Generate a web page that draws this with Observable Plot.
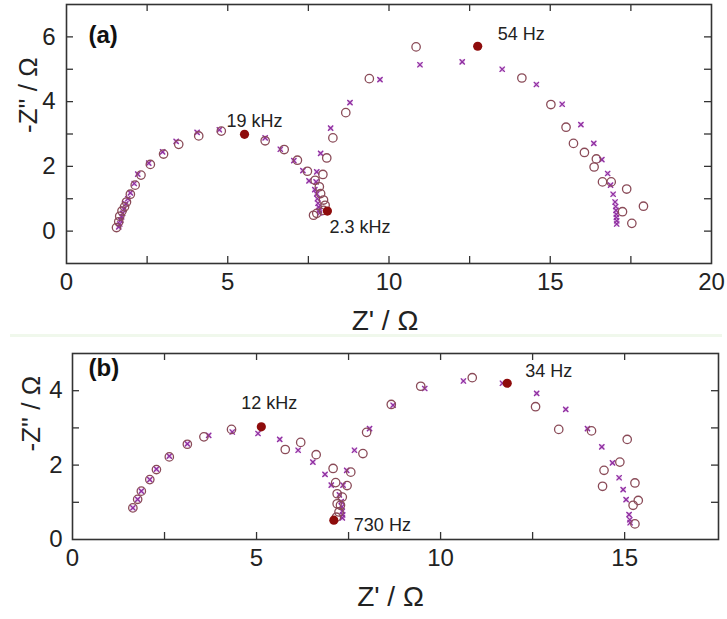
<!DOCTYPE html>
<html>
<head>
<meta charset="utf-8">
<script src="https://cdn.jsdelivr.net/npm/d3@7"></script>
<script src="https://cdn.jsdelivr.net/npm/@observablehq/plot@0.6"></script>
<style>
  body { margin: 0; background: #fff; }
  #wrap { position: relative; width: 727px; height: 619px; overflow: hidden; font-family: "Liberation Sans", Arial, sans-serif; }
  #pa { position: absolute; left: 0; top: 0; }
  #pb { position: absolute; left: 0; top: 335px; }
  #sep { position: absolute; left: 10px; top: 334px; width: 712px; height: 3px; background: #f0f8ec; }
</style>
</head>
<body>
<div id="wrap"><div id="pa"></div><div id="pb"></div><div id="sep"></div></div>
<script>
// ---------- Panel (a) data ----------
const aCircleX = [1.55,1.62,1.65,1.72,1.80,1.86,1.98,2.13,2.31,2.60,3.01,3.48,4.10,4.80,6.16,6.75,7.16,7.47,7.71,7.84,7.88,7.97,8.02,7.97,7.76,7.66,
  7.95,8.07,8.26,8.66,9.39,10.84,14.12,15.02,15.49,15.72,16.06,16.43,16.36,16.62,16.89,17.37,17.89,17.24,17.53];
const aCircleY = [0.11,0.29,0.46,0.62,0.75,0.90,1.14,1.42,1.73,2.06,2.38,2.68,2.94,3.09,2.79,2.52,2.19,1.85,1.57,1.37,1.16,0.96,0.80,0.64,0.55,0.49,
  1.75,2.26,2.88,3.66,4.71,5.69,4.73,3.91,3.21,2.71,2.43,2.23,1.98,1.52,1.52,1.30,0.77,0.60,0.24];
const aMarkX = [1.62,1.65,1.68,1.71,1.74,1.78,1.84,1.90,1.98,2.10,2.21,2.55,2.98,3.40,4.05,4.74,6.16,6.63,7.05,7.33,7.52,7.70,7.74,7.76,7.78,7.80,7.82,7.84,7.85,
  7.76,7.88,8.19,8.79,9.72,10.96,12.27,13.51,14.57,15.37,15.95,16.35,16.60,16.78,16.87,16.95,17.01,17.03,17.04,17.05,17.05,17.06,17.06];
const aMarkY = [0.13,0.22,0.33,0.44,0.55,0.68,0.84,1.00,1.18,1.47,1.76,2.10,2.45,2.77,3.05,3.13,2.88,2.53,2.18,1.87,1.55,1.28,1.52,1.15,1.00,0.86,0.74,0.64,0.56,
  1.83,2.40,3.18,3.97,4.68,5.14,5.23,5.00,4.53,3.92,3.29,2.71,2.21,1.78,1.42,1.14,0.90,0.76,0.64,0.52,0.42,0.32,0.22];
const aPeakX = [5.52, 8.09, 12.75];
const aPeakY = [2.99, 0.62, 5.71];
const aPeakLabels = ["19 kHz", "2.3 kHz", "54 Hz"];
const aXTicks = [2.5,5,7.5,10,12.5,15,17.5];
const aXLabels = [0,5,10,15,20];
const aYTicks = [0,1,2,3,4,5,6];
const aYLabels = [0,2,4,6];

// ---------- Panel (b) data ----------
const bCircleX = [1.64,1.77,1.87,2.10,2.28,2.63,3.12,3.57,4.32,5.78,6.20,6.62,7.08,7.15,7.19,7.33,7.19,7.28,7.24,7.17,
  7.46,7.56,7.89,7.99,8.66,9.46,10.86,12.58,13.21,14.10,15.07,14.87,14.44,14.40,15.28,15.37,15.23,15.28];
const bCircleY = [0.85,1.08,1.30,1.61,1.88,2.22,2.56,2.76,2.96,2.42,2.61,2.28,1.91,1.53,1.23,1.14,0.96,0.92,0.74,0.60,
  1.45,1.81,2.31,2.88,3.63,4.12,4.35,3.57,2.96,2.92,2.69,2.08,1.86,1.43,1.52,1.05,0.92,0.42];
const bMarkX = [1.64,1.77,1.87,2.10,2.28,2.63,3.12,3.70,4.34,5.04,5.63,6.13,6.53,6.86,7.03,7.25,7.30,7.32,7.33,7.34,7.33,
  7.35,7.45,7.66,8.07,8.71,9.57,10.62,11.68,12.61,13.40,13.99,14.38,14.67,14.85,14.96,15.04,15.12,15.14,15.15];
const bMarkY = [0.85,1.08,1.30,1.61,1.89,2.24,2.57,2.80,2.89,2.85,2.69,2.40,2.08,1.75,1.46,1.20,1.02,0.88,0.76,0.66,0.58,
  1.46,1.86,2.40,2.98,3.61,4.06,4.26,4.20,3.93,3.50,2.98,2.49,2.06,1.66,1.34,1.07,0.67,0.53,0.45];
const bPeakX = [5.13, 7.10, 11.81];
const bPeakY = [3.03, 0.52, 4.20];
const bPeakLabels = ["12 kHz", "730 Hz", "34 Hz"];
const bXTicks = [2.5,5,7.5,10,12.5,15];
const bXLabels = [0,5,10,15];
const bYTicks = [1,2,3,4];
const bYLabels = [0,2,4];

const xTitle = "Z' / Ω";
const yTitle = "-Z'' / Ω";

function zip(xs, ys) { return xs.map((x, i) => ({x, y: ys[i]})); }

function makePanel(o) {
  const innerW = o.width - o.ml - o.mr;
  const innerH = o.height - o.mt - o.mb;
  const TL = 7;
  const ink = "#333";
  const circles = zip(o.cx, o.cy);
  const marks = zip(o.mx, o.my);
  const peaks = o.px.map((x, i) => ({x, y: o.py[i], label: o.labels[i]}));
  const labelMarks = o.labelPos.map((p, i) =>
    Plot.text(peaks.filter((d, j) => j === i), {
      x: "x", y: "y", text: "label", dx: p[0], dy: p[1], textAnchor: p[2],
      lineAnchor: "middle", fontSize: 18, fill: "#222"
    })
  );
  return Plot.plot({
    width: o.width, height: o.height,
    marginLeft: o.ml, marginRight: o.mr, marginTop: o.mt, marginBottom: o.mb,
    x: {domain: o.xDomain},
    y: {domain: o.yDomain},
    style: {fontFamily: "'Liberation Sans', Arial, sans-serif", background: "transparent", color: "#222"},
    marks: [
      Plot.ruleX(o.xTicks, {x: d => d, insetTop: innerH - TL, stroke: ink, strokeWidth: 1.3}),
      Plot.ruleX(o.xTicks, {x: d => d, insetBottom: innerH - TL, stroke: ink, strokeWidth: 1.3}),
      Plot.ruleY(o.yTicks, {y: d => d, insetRight: innerW - TL, stroke: ink, strokeWidth: 1.3}),
      Plot.ruleY(o.yTicks, {y: d => d, insetLeft: innerW - TL, stroke: ink, strokeWidth: 1.3}),
      Plot.frame({stroke: ink, strokeWidth: 1.6}),
      Plot.axisX({ticks: o.xLabels, tickFormat: d => String(d), tickSize: 0, tickPadding: 9, fontSize: 24, label: null, anchor: "bottom"}),
      Plot.axisY({ticks: o.yLabels, tickFormat: d => String(d), tickSize: 0, tickPadding: o.yPad, fontSize: 24, label: null, anchor: "left"}),
      Plot.dot(marks, {x: "x", y: "y", symbol: "square", r: 2.8, fill: "#eccaf0", stroke: "none"}),
      Plot.dot(marks, {x: "x", y: "y", symbol: "times", r: 2.5, stroke: "#8e2fa0", strokeWidth: 1.3}),
      Plot.dot(circles, {x: "x", y: "y", r: 4.2, stroke: "#8a4b58", strokeWidth: 1.3, fill: "none"}),
      Plot.dot(peaks, {x: "x", y: "y", r: 4.6, fill: "#8e0c0c", stroke: "none"}),
      ...labelMarks,
      Plot.text([o.tag], {text: d => d, frameAnchor: "top-left", dx: o.tagDx, dy: o.tagDy,
        textAnchor: "start", lineAnchor: "top", fontSize: 24, fontWeight: "bold", fill: "#111"}),
      Plot.text([xTitle], {text: d => d, frameAnchor: "bottom", dx: o.xtDx, dy: 58,
        lineAnchor: "middle", fontSize: 28, fill: "#222"}),
      Plot.text([yTitle], {text: d => d, frameAnchor: "left", rotate: -90, dx: o.ytDx, dy: o.ytDy,
        lineAnchor: "middle", fontSize: 26, fill: "#222"})
    ]
  });
}

document.getElementById("pa").append(makePanel({
  width: 727, height: 335, ml: 66, mr: 16, mt: 4, mb: 72,
  xDomain: [0, 20], yDomain: [-1, 7],
  cx: aCircleX, cy: aCircleY, mx: aMarkX, my: aMarkY,
  px: aPeakX, py: aPeakY, labels: aPeakLabels,
  labelPos: [[10, -13, "middle"], [2, 16, "start"], [20, -12, "start"]],
  xTicks: aXTicks, xLabels: aXLabels, yTicks: aYTicks, yLabels: aYLabels, yPad: 11,
  tag: "(a)", tagDx: 22, tagDy: 21, xtDx: -4, ytDx: -38, ytDy: -1
}));

document.getElementById("pb").append(makePanel({
  width: 727, height: 284, ml: 72, mr: 9, mt: 18, mb: 80,
  xDomain: [0, 17.55], yDomain: [0, 5],
  cx: bCircleX, cy: bCircleY, mx: bMarkX, my: bMarkY,
  px: bPeakX, py: bPeakY, labels: bPeakLabels,
  labelPos: [[8, -24, "middle"], [20, 5, "start"], [18, -12, "start"]],
  xTicks: bXTicks, xLabels: bXLabels, yTicks: bYTicks, yLabels: bYLabels, yPad: 10,
  tag: "(b)", tagDx: 16, tagDy: 5, xtDx: -5, ytDx: -41, ytDy: 5
}));
</script>
</body>
</html>
